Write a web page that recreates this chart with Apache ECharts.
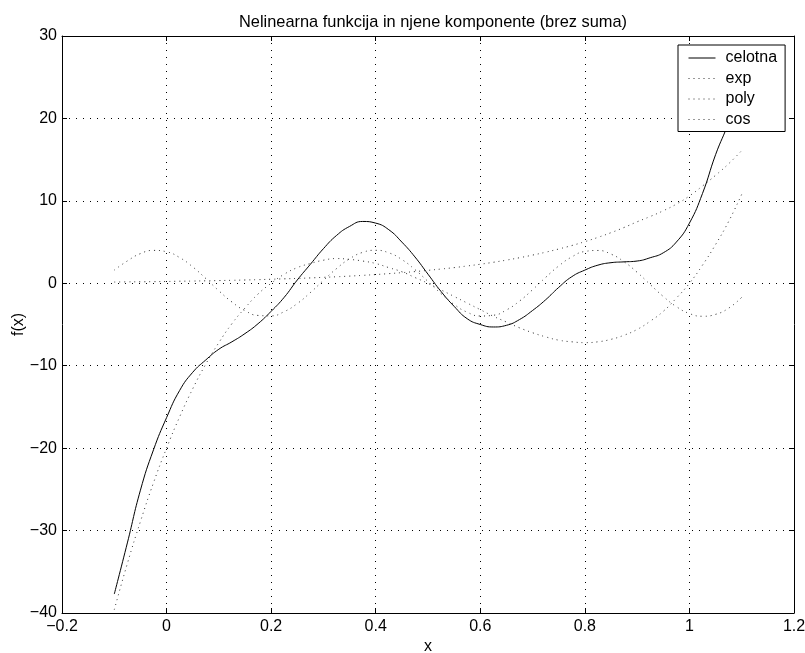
<!DOCTYPE html>
<html>
<head>
<meta charset="utf-8">
<script src="https://cdn.jsdelivr.net/npm/echarts@6/dist/echarts.min.js"></script>
<style>
html,body{margin:0;padding:0;background:#fff;}
#c{width:805px;height:653px;}
</style>
</head>
<body>
<div id="c"></div>
<script>
var xs = [-0.1,-0.075,-0.05,-0.025,0,0.025,0.05,0.075,0.1,0.125,0.15,0.175,0.2,0.225,0.25,0.275,0.3,0.325,0.35,0.375,0.4,0.425,0.45,0.475,0.5,0.525,0.55,0.575,0.6,0.625,0.65,0.675,0.7,0.725,0.75,0.775,0.8,0.825,0.85,0.875,0.9,0.925,0.95,0.975,1.0,1.025,1.05,1.075,1.1];
var celotna = [-37.7,-31.5,-25.1,-20.2,-16.3,-13.0,-10.8,-9.3,-8.0,-7.1,-6.1,-4.9,-3.4,-1.7,0.4,2.3,4.2,5.8,6.9,7.5,7.3,6.5,5.0,3.2,1.1,-1.0,-2.8,-4.3,-5.0,-5.3,-5.1,-4.4,-3.3,-2.0,-0.5,0.8,1.6,2.2,2.5,2.6,2.7,3.1,3.7,5.0,7.3,10.9,15.6,19.6,25.0];
var expVals = [0.15,0.17,0.18,0.20,0.22,0.25,0.27,0.30,0.33,0.36,0.40,0.44,0.49,0.54,0.59,0.65,0.72,0.79,0.87,0.96,1.06,1.17,1.29,1.42,1.57,1.73,1.90,2.10,2.31,2.55,2.81,3.10,3.42,3.77,4.16,4.58,5.05,5.57,6.14,6.77,7.46,8.1,8.8,9.6,10.6,11.8,13.1,14.5,16.1];
var polyVals = [-39.6,-34.0,-28.9,-24.2,-20.0,-16.2,-12.8,-9.8,-7.2,-4.9,-3.0,-1.3,0,1.1,1.9,2.4,2.8,3.0,2.9,2.7,2.4,1.9,1.4,0.7,0,-0.8,-1.6,-2.4,-3.2,-4.0,-4.7,-5.4,-6.0,-6.5,-6.9,-7.1,-7.2,-7.1,-6.8,-6.3,-5.6,-4.6,-3.4,-1.8,0,2.2,4.7,7.5,10.8];
var cosVals = [1.6,2.71,3.60,3.99,3.82,3.12,1.99,0.58,-0.91,-2.27,-3.32,-3.90,-3.95,-3.44,-2.46,-1.13,0.35,1.78,2.97,3.75,4.00,3.70,2.88,1.66,0.22,-1.26,-2.57,-3.51,-3.97,-3.88,-3.24,-2.16,-0.78,0.71,2.10,3.20,3.86,3.98,3.54,2.61,1.33,-0.15,-1.60,-2.83,-3.67,-4.00,-3.77,-3.02,-1.7];
var seriesNames = ['celotna','exp','poly','cos'];
var titleText = 'Nelinearna funkcija in njene komponente (brez suma)';

function pairs(ys){ return xs.map(function(x,i){ return [x, ys[i]]; }); }
function fmt(v){
  var s = String(+(+v).toFixed(2));
  return s.replace('-', '\u2212');
}
var FONT = 'Liberation Sans, Arial, Helvetica, sans-serif';
var FS = 16;
var chart = echarts.init(document.getElementById('c'), null, {renderer:'canvas'});
var dotted = [1,4];
var tickStyle = {inside:true, length:5, lineStyle:{color:'#000', width:1}};
var option = {
  backgroundColor:'#fff',
  animation:false,
  title:{text:titleText, left:428, top:9, textAlign:'center',
    textStyle:{fontFamily:FONT, fontSize:16.4, fontWeight:'normal', color:'#000'}},
  grid:{left:62, right:11, top:36, bottom:40, show:false, containLabel:false, outerBoundsMode:'none'},
  legend:{
    data:seriesNames, orient:'vertical', left:678, top:45,
    backgroundColor:'#fff', borderColor:'#000', borderWidth:1,
    padding:[5,8,4,10], itemWidth:27, itemHeight:14, itemGap:4.5,
    itemStyle:{opacity:0},
    lineStyle:{width:1},
    textStyle:{fontFamily:FONT, fontSize:FS, lineHeight:14, color:'#000', padding:[0,0,0,5]},
    z:10, zlevel:1
  },
  xAxis:[{
    type:'value', min:-0.2, max:1.2, interval:0.2, position:'bottom',
    name:'x', nameLocation:'middle', nameGap:26, nameMoveOverlap:false,
    nameTextStyle:{fontFamily:FONT, fontSize:FS, color:'#000'},
    axisLine:{show:true, onZero:false, lineStyle:{color:'#000', width:1}},
    axisTick:tickStyle,
    axisLabel:{formatter:fmt, fontFamily:FONT, fontSize:FS, color:'#000', margin:6},
    splitLine:{show:true, lineStyle:{color:'#000', width:1, type:[1,6]}}
  },{
    type:'value', min:-0.2, max:1.2, interval:0.2, position:'top',
    axisLine:{show:true, onZero:false, lineStyle:{color:'#000', width:1}},
    axisTick:tickStyle, axisLabel:{show:false}, splitLine:{show:false}
  }],
  yAxis:[{
    type:'value', min:-40, max:30, interval:10, position:'left',
    name:'f(x)', nameLocation:'middle', nameGap:35, nameRotate:90, nameMoveOverlap:false,
    nameTextStyle:{fontFamily:FONT, fontSize:FS, color:'#000'},
    axisLine:{show:true, onZero:false, lineStyle:{color:'#000', width:1}},
    axisTick:tickStyle,
    axisLabel:{formatter:fmt, fontFamily:FONT, fontSize:FS, color:'#000', margin:5},
    splitLine:{show:true, lineStyle:{color:'#000', width:1, type:[1,6]}}
  },{
    type:'value', min:-40, max:30, interval:10, position:'right',
    axisLine:{show:true, onZero:false, lineStyle:{color:'#000', width:1}},
    axisTick:tickStyle, axisLabel:{show:false}, splitLine:{show:false}
  }],
  series:[
    {name:'celotna', type:'line', data:pairs(celotna), symbol:'none', smooth:0.5,
      lineStyle:{color:'#000', width:1, type:'solid'}, itemStyle:{color:'#000'}, z:3},
    {name:'exp', type:'line', data:pairs(expVals), symbol:'none', smooth:0.5,
      lineStyle:{color:'#333', width:1, type:dotted}, itemStyle:{color:'#333'}},
    {name:'poly', type:'line', data:pairs(polyVals), symbol:'none', smooth:0.5,
      lineStyle:{color:'#333', width:1, type:dotted}, itemStyle:{color:'#333'}},
    {name:'cos', type:'line', data:pairs(cosVals), symbol:'none', smooth:0.5,
      lineStyle:{color:'#333', width:1, type:dotted}, itemStyle:{color:'#333'}}
  ]
};
chart.setOption(option);
</script>
</body>
</html>
